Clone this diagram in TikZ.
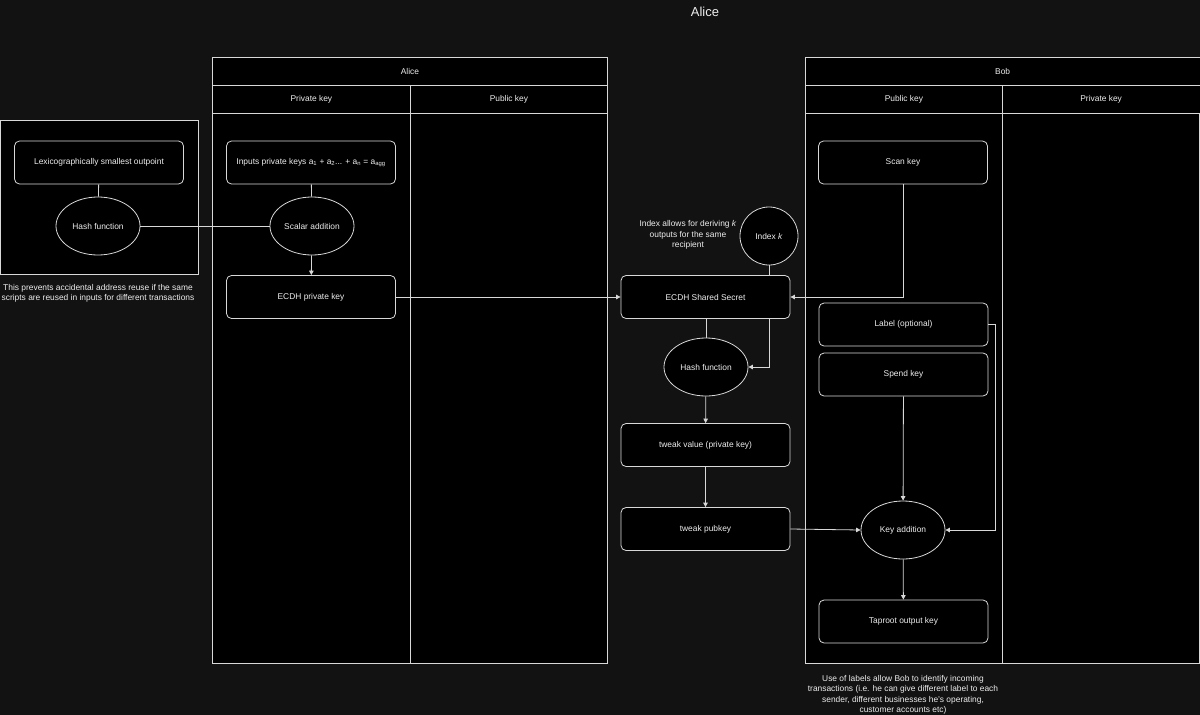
\documentclass[tikz,border=0pt]{standalone}
\usepackage{fontspec}
\setmainfont{Liberation Sans}
\usetikzlibrary{arrows.meta,shapes.geometric}
\definecolor{bg}{HTML}{121212}
\definecolor{ln}{HTML}{D8D8D8}
\definecolor{tx}{HTML}{EEEEEE}
\begin{document}
\begin{tikzpicture}[x=1pt,y=-1pt,
  txt/.style={text=tx, font=\fontsize{8.4}{10.5}\selectfont},
  box/.style={txt, draw=ln, fill=black, line width=0.8pt, rounded corners=5pt, minimum width=169pt, minimum height=43pt, inner sep=0pt},
  oval/.style={txt, draw=ln, fill=black, line width=0.8pt, ellipse, minimum width=84pt, minimum height=58pt, inner sep=0pt},
  conn/.style={draw=ln, line width=0.8pt},
  arr/.style={conn, -{Triangle[length=4.5pt,width=4.5pt]}},
  hdr/.style={txt, draw=ln, fill=black, line width=0.8pt, anchor=north west, inner sep=0pt},
  lanebody/.style={draw=ln, fill=black, line width=0.8pt}
]
\fill[bg] (0,0) rectangle (1200,715);
\useasboundingbox (0,0) rectangle (1200,715);

% title
\node[txt, font=\fontsize{13}{15}\selectfont] (title) at (705,12) {Alice};

% Alice pool
\draw[lanebody] (212,57) rectangle (607,663);
\draw[lanebody] (212,85) rectangle (410,663);
\draw[lanebody] (410,85) rectangle (607,663);
\node[hdr, minimum width=395pt, minimum height=28pt] (alicehdr) at (212,57) {Alice};
\node[hdr, minimum width=198pt, minimum height=28pt] (aprivhdr) at (212,85) {Private key};
\node[hdr, minimum width=197pt, minimum height=28pt] (apubhdr) at (410,85) {Public key};

% Bob pool
\draw[lanebody] (805,57) rectangle (1199.5,663);
\draw[lanebody] (805,85) rectangle (1002,663);
\draw[lanebody] (1002,85) rectangle (1199.5,663);
\node[hdr, minimum width=394.5pt, minimum height=28pt] (bobhdr) at (805,57) {Bob};
\node[hdr, minimum width=197pt, minimum height=28pt] (bpubhdr) at (805,85) {Public key};
\node[hdr, minimum width=197.5pt, minimum height=28pt] (bprivhdr) at (1002,85) {Private key};

% left group
\draw[lanebody] (0.5,120) rectangle (198,274);
\node[box] (lex) at (99,162.5) {Lexicographically smallest outpoint};
\node[oval] (hash1) at (98,226) {Hash function};
\node[txt, align=center] (note1) at (98,293.5) {This prevents accidental address reuse if the same\\scripts are reused in inputs for different transactions};

% Alice private
\node[box] (inputs) at (311,162.5) {Inputs private keys a\textsubscript{1} + a\textsubscript{2}... + a\textsubscript{n} = a\textsubscript{agg}};
\node[oval] (scalar) at (312,226) {Scalar addition};
\node[box] (ecdhpriv) at (311,297) {ECDH private key};

% middle
\node[box] (ecdh) at (705.5,297) {ECDH Shared Secret};
\node[txt, draw=ln, fill=black, line width=0.8pt, circle, minimum size=58pt, inner sep=0pt] (idx) at (769,236) {Index \textit{k}};
\node[txt, align=center] (note2) at (688,235) {Index allows for deriving \textit{k}\\outputs for the same\\recipient};
\node[oval] (hash2) at (706,367) {Hash function};
\node[box] (tweakval) at (705.5,445) {tweak value (private key)};
\node[box] (tweakpub) at (705.5,529) {tweak pubkey};

% Bob public
\node[box] (scan) at (903,162.5) {Scan key};
\node[box] (label) at (903.5,324.5) {Label (optional)};
\node[box] (spend) at (903.5,374.5) {Spend key};
\node[oval] (keyadd) at (903,530) {Key addition};
\node[box] (taproot) at (903.5,621.5) {Taproot output key};
\node[txt, align=center] (note3) at (903,695) {Use of labels allow Bob to identify incoming\\transactions (i.e. he can give different label to each\\sender, different businesses he's operating,\\customer accounts etc)};

% connectors
\draw[conn] (lex) -- (hash1);
\draw[conn] (hash1) -- (scalar);
\draw[conn] (inputs) -- (scalar);
\draw[arr] (scalar) -- (ecdhpriv);
\draw[arr] (ecdhpriv) -- (ecdh);
\draw[arr] (scan.south) |- (ecdh.east);
\draw[conn] (idx) -- (idx |- ecdh.north);
\draw[conn] (ecdh.south -| hash2.north) -- (hash2.north);
\draw[arr] (ecdh.south -| idx.south) |- (hash2.east);
\draw[arr] (hash2) -- (tweakval);
\draw[arr] (tweakval) -- (tweakpub);
\draw[arr] (tweakpub.east) -- (keyadd.west);
\draw[arr] (spend) -- (keyadd);
\draw[arr] (label.east) -- ++(7,0) |- (keyadd.east);
\draw[arr] (keyadd) -- (taproot);
\end{tikzpicture}
\end{document}
